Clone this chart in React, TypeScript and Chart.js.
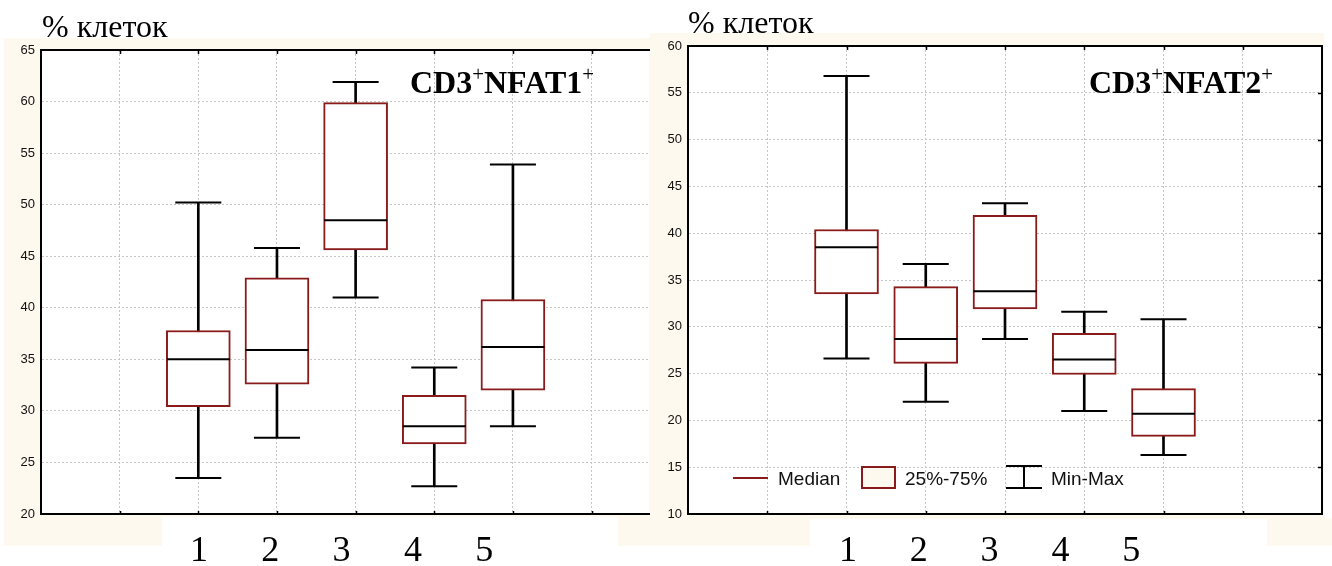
import React, { useEffect, useRef } from "react";
import { Chart, registerables } from "chart.js";

Chart.register(...registerables);

// ---- data ----
const categories = ["1", "2", "3", "4", "5"];

const nfat1Min = [23.5, 27.4, 41.0, 22.7, 28.5];
const nfat1Q1 = [30.4, 32.6, 45.6, 26.8, 32.0];
const nfat1Median = [35.0, 35.9, 48.5, 28.5, 36.2];
const nfat1Q3 = [37.8, 42.9, 59.9, 31.5, 40.8];
const nfat1Max = [50.2, 45.8, 61.9, 34.2, 53.9];

const nfat2Min = [26.6, 22.0, 28.7, 21.0, 16.3];
const nfat2Q1 = [33.5, 26.1, 31.9, 24.9, 18.3];
const nfat2Median = [38.5, 28.7, 33.8, 26.5, 20.7];
const nfat2Q3 = [40.4, 34.3, 41.9, 29.3, 23.4];
const nfat2Max = [56.8, 36.7, 43.2, 31.6, 30.8];

const nfat1YTicks = [20, 25, 30, 35, 40, 45, 50, 55, 60, 65];
const nfat2YTicks = [10, 15, 20, 25, 30, 35, 40, 45, 50, 55, 60];

const yAxisTitle = "% клеток";
const legendLabels = ["Median", "25%-75%", "Min-Max"];

// ---- styles ----
const CREAM = "#fdf9ee";
const RED = "#8b1a1a";
const GRID = "#c6c6c6";

type Series = {
  mins: number[];
  q1: number[];
  med: number[];
  q3: number[];
  maxs: number[];
};

type Geo = {
  width: number;
  height: number;
  left: number;
  top: number;
  right: number;
  bottom: number;
  xMin: number;
  xMax: number;
  rightBorder: boolean;
};

const whiteArea = {
  id: "whiteArea",
  beforeDraw(chart: any) {
    const { ctx, chartArea: a } = chart;
    ctx.save();
    ctx.fillStyle = "#ffffff";
    ctx.fillRect(a.left, a.top, a.right - a.left, a.bottom - a.top);
    ctx.restore();
  },
};

// small inward tick marks on the frame, taken from the scales' own ticks
const innerTicks = {
  id: "innerTicks",
  afterDraw(chart: any, _args: any, opts: any) {
    const { ctx, chartArea: a, scales } = chart;
    ctx.save();
    ctx.strokeStyle = "#000";
    ctx.lineWidth = 1.5;
    ctx.beginPath();
    for (const t of scales.x.ticks) {
      const px = Math.round(scales.x.getPixelForValue(t.value)) + 0.5;
      if (px <= a.left + 2 || px >= a.right - 2) continue;
      ctx.moveTo(px, a.top);
      ctx.lineTo(px, a.top + 4);
      ctx.moveTo(px, a.bottom);
      ctx.lineTo(px, a.bottom - 3);
    }
    if (opts && opts.right) {
      for (const t of scales.y.ticks) {
        const py = Math.round(scales.y.getPixelForValue(t.value)) + 0.5;
        if (py <= a.top + 2 || py >= a.bottom - 2) continue;
        ctx.moveTo(a.right, py);
        ctx.lineTo(a.right - 4, py);
      }
    }
    ctx.stroke();
    ctx.restore();
  },
};

function makeConfig(s: Series, yTicks: number[], g: Geo): any {
  const pos = (i: number) => i + 1;
  const yMin = yTicks[0];
  const yMax = yTicks[yTicks.length - 1];
  const scales: any = {
    x: {
      type: "linear",
      position: "bottom",
      min: g.xMin,
      max: g.xMax,
      offset: false,
      ticks: { display: false, stepSize: 1, includeBounds: false },
      grid: { display: true, color: GRID, lineWidth: 1, drawTicks: false, offset: false },
      border: { display: true, color: "#000", width: 2, dash: [2, 2] },
      afterFit: (sc: any) => {
        sc.height = 0;
      },
    },
    xTop: {
      type: "linear",
      position: "top",
      min: g.xMin,
      max: g.xMax,
      offset: false,
      ticks: { display: false },
      grid: { display: false, drawTicks: false },
      border: { display: true, color: "#000", width: 2 },
      afterFit: (sc: any) => {
        sc.height = 0;
      },
    },
    y: {
      type: "linear",
      position: "left",
      min: yMin,
      max: yMax,
      afterBuildTicks: (sc: any) => {
        sc.ticks = yTicks.map((v) => ({ value: v }));
      },
      ticks: {
        color: "#111",
        padding: 6,
        font: { family: "Arial, 'Liberation Sans'", size: 13 },
      },
      grid: { display: true, color: GRID, lineWidth: 1, drawTicks: false },
      border: { display: true, color: "#000", width: 2, dash: [2, 2] },
      afterFit: (sc: any) => {
        sc.width = g.left;
      },
    },
  };
  if (g.rightBorder) {
    scales.yRight = {
      type: "linear",
      position: "right",
      min: yMin,
      max: yMax,
      ticks: { display: false },
      grid: { display: false, drawTicks: false },
      border: { display: true, color: "#000", width: 2 },
      afterFit: (sc: any) => {
        sc.width = 0;
      },
    };
  }

  return {
    type: "scatter",
    data: {
      datasets: [
        {
          type: "scatter",
          label: legendLabels[0],
          data: categories.map((_, i) => ({ x: pos(i), y: s.med[i] })),
          pointStyle: "line",
          pointRadius: 31.5,
          pointHoverRadius: 31.5,
          pointBorderColor: "#000",
          pointBackgroundColor: "#000",
          pointBorderWidth: 2,
          order: 0,
        },
        {
          type: "scatter",
          label: "caps",
          data: [
            ...categories.map((_, i) => ({ x: pos(i), y: s.mins[i] })),
            ...categories.map((_, i) => ({ x: pos(i), y: s.maxs[i] })),
          ],
          pointStyle: "line",
          pointRadius: 23,
          pointHoverRadius: 23,
          pointBorderColor: "#000",
          pointBackgroundColor: "#000",
          pointBorderWidth: 2,
          order: 1,
        },
        {
          type: "bar",
          label: legendLabels[1],
          data: categories.map((_, i) => ({ x: pos(i), y: [s.q1[i], s.q3[i]] })),
          backgroundColor: "#ffffff",
          borderColor: RED,
          borderWidth: 2,
          borderSkipped: false,
          grouped: false,
          categoryPercentage: 1,
          barPercentage: 1,
          maxBarThickness: 64,
          order: 2,
        },
        {
          type: "bar",
          label: legendLabels[2],
          data: categories.map((_, i) => ({ x: pos(i), y: [s.mins[i], s.maxs[i]] })),
          backgroundColor: "#000",
          borderWidth: 0,
          grouped: false,
          categoryPercentage: 1,
          barPercentage: 1,
          maxBarThickness: 2,
          order: 3,
        },
      ],
    },
    options: {
      responsive: false,
      maintainAspectRatio: false,
      devicePixelRatio: 1,
      animation: false,
      events: [],
      layout: {
        autoPadding: false,
        padding: {
          left: 0,
          top: g.top,
          right: g.width - g.right,
          bottom: g.height - g.bottom,
        },
      },
      plugins: {
        legend: { display: false },
        tooltip: { enabled: false },
        innerTicks: { right: g.rightBorder },
      },
      scales,
    },
    plugins: [whiteArea, innerTicks],
  };
}

function BoxChart(props: {
  series: Series;
  yTicks: number[];
  geo: Geo;
  x: number;
}) {
  const ref = useRef<HTMLCanvasElement | null>(null);
  useEffect(() => {
    if (!ref.current) return;
    const chart = new Chart(ref.current, makeConfig(props.series, props.yTicks, props.geo));
    return () => chart.destroy();
  }, []);
  return (
    <canvas
      ref={ref}
      width={props.geo.width}
      height={props.geo.height}
      style={{
        position: "absolute",
        left: props.x,
        top: 0,
        width: props.geo.width,
        height: props.geo.height,
        display: "block",
      }}
    />
  );
}

const abs = (l: number, t: number, w: number, h: number, bg: string): React.CSSProperties => ({
  position: "absolute",
  left: l,
  top: t,
  width: w,
  height: h,
  background: bg,
});

const serif = "'Times New Roman', 'Liberation Serif', serif";
const sans = "Arial, 'Liberation Sans', sans-serif";

function Title(props: { left: number; top: number; num: string }) {
  const sup: React.CSSProperties = {
    fontSize: "0.65em",
    position: "relative",
    top: "-0.6em",
    verticalAlign: "baseline",
    fontWeight: "normal",
  };
  return (
    <div
      style={{
        position: "absolute",
        left: props.left,
        top: props.top,
        font: `bold 32px ${serif}`,
        lineHeight: "32px",
        whiteSpace: "nowrap",
        color: "#000",
      }}
    >
      CD3<span style={sup}>+</span>NFAT{props.num}
      <span style={sup}>+</span>
    </div>
  );
}

function XLabels(props: { start: number; step: number; top: number }) {
  return (
    <>
      {categories.map((c, i) => (
        <div
          key={c}
          style={{
            position: "absolute",
            left: props.start + i * props.step - 20,
            top: props.top,
            width: 40,
            textAlign: "center",
            font: `36px ${serif}`,
            lineHeight: "36px",
            color: "#000",
          }}
        >
          {c}
        </div>
      ))}
    </>
  );
}

export default function App() {
  const leftGeo: Geo = {
    width: 655,
    height: 566,
    left: 41,
    top: 50,
    right: 649,
    bottom: 514,
    xMin: -1,
    xMax: 6.73,
    rightBorder: false,
  };
  const rightGeo: Geo = {
    width: 677,
    height: 566,
    left: 33,
    top: 46,
    right: 667,
    bottom: 514,
    xMin: -1,
    xMax: 7,
    rightBorder: true,
  };
  const s1: Series = { mins: nfat1Min, q1: nfat1Q1, med: nfat1Median, q3: nfat1Q3, maxs: nfat1Max };
  const s2: Series = { mins: nfat2Min, q1: nfat2Q1, med: nfat2Median, q3: nfat2Q3, maxs: nfat2Max };

  const legendText: React.CSSProperties = {
    position: "absolute",
    font: `19px ${sans}`,
    lineHeight: "19px",
    color: "#111",
    whiteSpace: "nowrap",
  };

  return (
    <div
      style={{
        position: "absolute",
        left: 0,
        top: 0,
        width: 1332,
        height: 566,
        background: "#fff",
        overflow: "hidden",
      }}
    >
      {/* cream backgrounds */}
      <div style={abs(4, 38, 646, 508, CREAM)} />
      <div style={abs(162, 517, 456, 49, "#fff")} />
      <div style={abs(650, 33, 682, 513, CREAM)} />
      <div style={abs(1324, 33, 8, 485, "#fff")} />
      <div style={abs(810, 519, 457, 47, "#fff")} />

      <BoxChart series={s1} yTicks={nfat1YTicks} geo={leftGeo} x={0} />
      <BoxChart series={s2} yTicks={nfat2YTicks} geo={rightGeo} x={655} />

      {/* axis titles */}
      <div style={{ position: "absolute", left: 42, top: 10, font: `32px ${serif}`, lineHeight: "32px", whiteSpace: "nowrap" }}>
        {yAxisTitle}
      </div>
      <div style={{ position: "absolute", left: 688, top: 6, font: `32px ${serif}`, lineHeight: "32px", whiteSpace: "nowrap" }}>
        {yAxisTitle}
      </div>

      <Title left={410} top={66} num="1" />
      <Title left={1089} top={66} num="2" />

      <XLabels start={199} step={71.3} top={531} />
      <XLabels start={848} step={70.8} top={531} />

      {/* legend */}
      <div style={abs(733, 477, 35, 2, RED)} />
      <div style={{ ...legendText, left: 778, top: 469 }}>{legendLabels[0]}</div>
      <div
        style={{
          ...abs(861, 466, 35, 23, CREAM),
          border: `2px solid ${RED}`,
          boxSizing: "border-box",
        }}
      />
      <div style={{ ...legendText, left: 905, top: 469 }}>{legendLabels[1]}</div>
      <div style={abs(1006, 465, 36, 2, "#000")} />
      <div style={abs(1006, 487, 36, 2, "#000")} />
      <div style={abs(1023, 466, 2, 22, "#000")} />
      <div style={{ ...legendText, left: 1051, top: 469 }}>{legendLabels[2]}</div>
    </div>
  );
}
